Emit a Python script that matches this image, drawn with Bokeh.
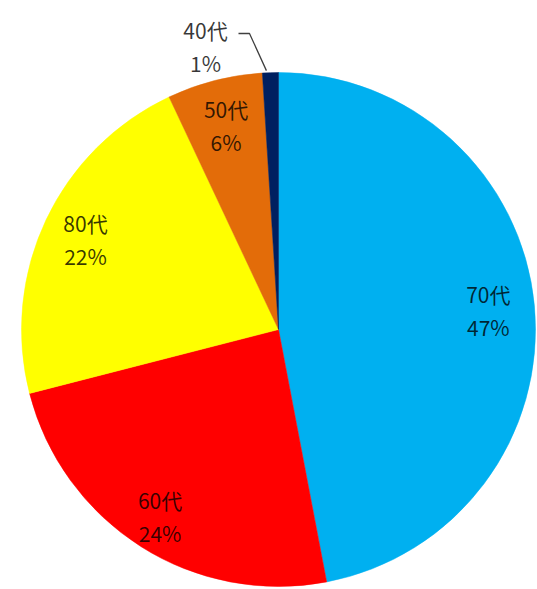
import math
from bokeh.plotting import figure
from bokeh.models import Range1d, ColumnDataSource
from bokeh.core.properties import value
from bokeh.embed import file_html
from bokeh.resources import INLINE

# ---- data ----
categories = ["70代", "60代", "80代", "50代", "40代"]
percents = [47, 24, 22, 6, 1]
colors = ["#00B0F0", "#FF0000", "#FFFF00", "#E36C09", "#002060"]

# ---- layout ----
W, H = 537, 589
CX, CY = 278, 589 - 329
R = 257
label_k = [0.82, 0.86, 0.83, 0.82, None]   # radial position of inside labels
outside_dx, outside_dy = -73, 284           # 40代 label offset (outside)
FONT = "Noto Sans CJK JP"
FS = "21px"

total = float(sum(percents))
starts, ends, mids = [], [], []
c = 0.0
for v in percents:
    c0 = c / total
    c += v
    c1 = c / total
    starts.append(math.pi / 2 - 2 * math.pi * c1)
    ends.append(math.pi / 2 - 2 * math.pi * c0)
    mids.append(math.pi / 2 - 2 * math.pi * (c0 + c1) / 2)

src = ColumnDataSource(dict(x=[CX] * len(percents), y=[CY] * len(percents),
                            start=starts, end=ends, color=colors))

p = figure(width=W, height=H, x_range=Range1d(0, W), y_range=Range1d(0, H),
           output_backend="svg", toolbar_location=None, min_border=0)
p.axis.visible = False
p.grid.visible = False
p.outline_line_color = None
p.background_fill_color = "white"

p.wedge(x="x", y="y", radius=R, start_angle="start", end_angle="end",
        fill_color="color", line_color="color", line_width=0.5, source=src)

lx, ly, names, pcts = [], [], [], []
for i, (cat, v) in enumerate(zip(categories, percents)):
    if label_k[i] is not None:
        x = CX + label_k[i] * R * math.cos(mids[i])
        y = CY + label_k[i] * R * math.sin(mids[i])
    else:
        x = CX + outside_dx
        y = CY + outside_dy
        # leader line from label to slice edge
        ex = CX + R * math.cos(mids[i])
        ey = CY + R * math.sin(mids[i])
        p.line(x=[x + 33, x + 44, ex - 4], y=[y + 12, y + 12, ey + 2],
               line_color="#404040", line_width=1.3)
    lx.append(x)
    ly.append(y)
    names.append(cat)
    pcts.append(f"{round(v / total * 100)}%")

lab = ColumnDataSource(dict(x=lx, y=ly, name=names, pct=pcts))
p.text(x="x", y="y", text="name", source=lab, y_offset=-16,
       text_align="center", text_baseline="middle",
       text_font=value(FONT), text_font_size=FS,
       text_color="black", text_alpha=0.78)
p.text(x="x", y="y", text="pct", source=lab, y_offset=17,
       text_align="center", text_baseline="middle",
       text_font=value(FONT), text_font_size=FS,
       text_color="black", text_alpha=0.78)

open("out.html", "w").write(file_html(p, INLINE))
